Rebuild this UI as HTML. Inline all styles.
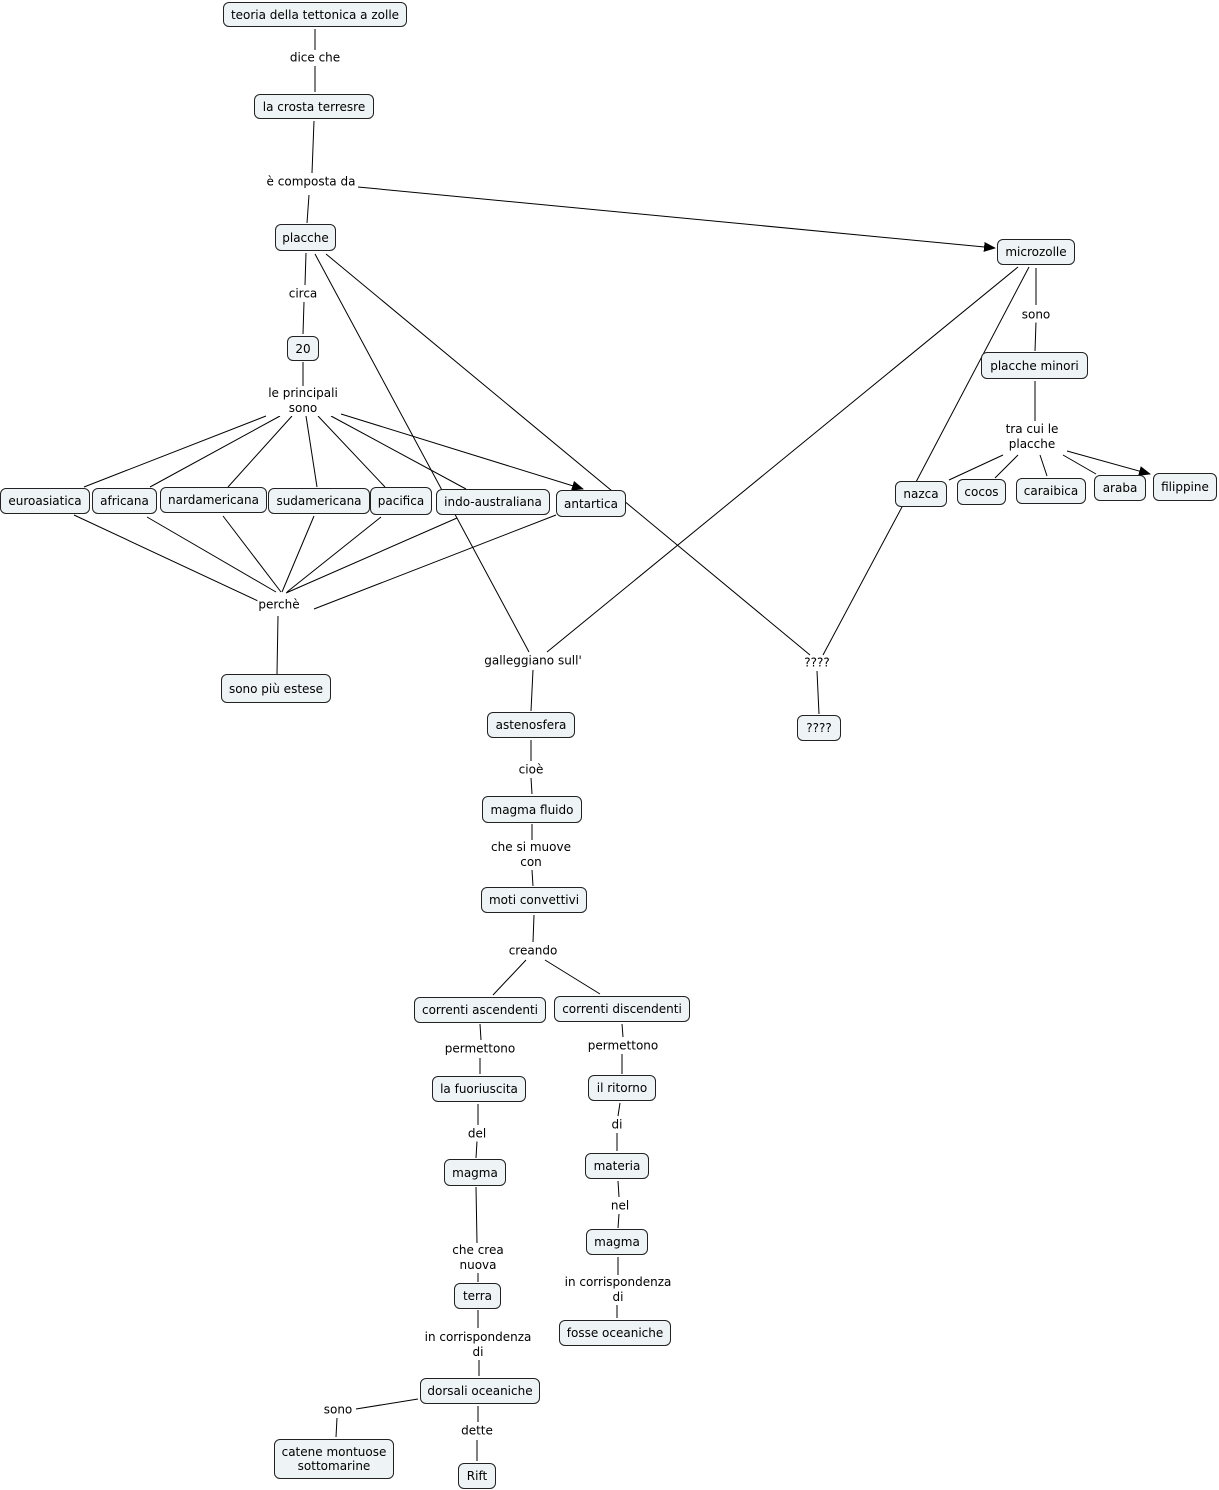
<!DOCTYPE html>
<html><head><meta charset="utf-8"><style>
body{margin:0;width:1219px;height:1490px;background:#fff;position:relative;font-family:"DejaVu Sans","Liberation Sans",sans-serif;font-size:12px;color:#000;overflow:hidden}
.n{position:absolute;box-sizing:border-box;background:#eef3f5;border:1px solid #222;border-radius:6px;display:flex;align-items:center;justify-content:center;text-align:center;line-height:14px;white-space:nowrap}
.l{position:absolute;transform:translate(-50%,-50%);text-align:center;line-height:15px;white-space:nowrap;background:#fff;padding:0 1px}
svg{position:absolute;left:0;top:0}
</style></head><body>
<svg width="1219" height="1490" stroke="#000" stroke-width="1" fill="none">
<defs><marker id="a" markerWidth="12" markerHeight="10" refX="11" refY="5" orient="auto" markerUnits="userSpaceOnUse"><path d="M0,0L12,5L0,10z" fill="#000" stroke="none"/></marker></defs>
<path d="M315,29L315,50M315,66L315,92M314,121L312,173M309,195L307,223M306,253L305,285M304,302L303,334M303,362L303,386"/>
<path d="M358,187L995,248" marker-end="url(#a)"/>
<path d="M266,416L84,487M280,416L150,487M292,416L228,487M306,416L317,487M318,416L385,487M331,416L466,489"/>
<path d="M341,414L583,489" marker-end="url(#a)"/>
<path d="M74,515L258,601M147,517L276,592M223,516L281,592M314,516L282,592M381,517L287,592M457,518L286,593M556,515L314,609M278,616L277,674"/>
<path d="M315,254L529,652M326,254L810,655M1018,267L547,652M1029,267L916,482M902,507L823,655"/>
<path d="M1036,268L1036,305M1036,322L1035,351M1035,381L1035,421M1003,455L949,480M1018,455L995,478M1040,455L1047,476M1063,455L1096,474"/>
<path d="M1067,451L1150,474" marker-end="url(#a)"/>
<path d="M817,671L819,714M533,670L531,711M531,740L531,761M531,778L532,794M532,824L532,840M532,870L533,886M534,915L533,942M526,960L493,995M545,960L600,994"/>
<path d="M480,1024L481,1040M480,1058L480,1074M478,1104L478,1125M477,1141L476,1158M476,1187L477,1243M478,1273L478,1282M478,1310L478,1328M479,1360L479,1376M418,1399L356,1409M337,1418L336,1437M478,1406L478,1422M477,1440L477,1461"/>
<path d="M622,1024L623,1037M622,1054L622,1074M620,1103L618,1116M617,1133L617,1151M618,1181L619,1197M619,1214L618,1228M618,1257L618,1275M617,1305L617,1318"/>
</svg>
<div class="n" style="left:223px;top:2px;width:184px;height:25px">teoria della tettonica a zolle</div>
<div class="n" style="left:254px;top:94px;width:120px;height:25px">la crosta terresre</div>
<div class="n" style="left:275px;top:224px;width:61px;height:27px">placche</div>
<div class="n" style="left:287px;top:336px;width:32px;height:25px">20</div>
<div class="n" style="left:0px;top:488px;width:90px;height:26px">euroasiatica</div>
<div class="n" style="left:92px;top:488px;width:65px;height:26px">africana</div>
<div class="n" style="left:160px;top:487px;width:107px;height:26px">nardamericana</div>
<div class="n" style="left:268px;top:488px;width:102px;height:26px">sudamericana</div>
<div class="n" style="left:370px;top:487px;width:62px;height:28px">pacifica</div>
<div class="n" style="left:436px;top:489px;width:114px;height:26px">indo-australiana</div>
<div class="n" style="left:556px;top:490px;width:70px;height:27px">antartica</div>
<div class="n" style="left:221px;top:674px;width:110px;height:29px">sono più estese</div>
<div class="n" style="left:997px;top:239px;width:78px;height:26px">microzolle</div>
<div class="n" style="left:981px;top:352px;width:107px;height:27px">placche minori</div>
<div class="n" style="left:895px;top:481px;width:52px;height:26px">nazca</div>
<div class="n" style="left:957px;top:479px;width:49px;height:26px">cocos</div>
<div class="n" style="left:1016px;top:478px;width:70px;height:26px">caraibica</div>
<div class="n" style="left:1094px;top:475px;width:52px;height:26px">araba</div>
<div class="n" style="left:1153px;top:473px;width:64px;height:28px">filippine</div>
<div class="n" style="left:797px;top:715px;width:44px;height:26px">????</div>
<div class="n" style="left:487px;top:712px;width:88px;height:26px">astenosfera</div>
<div class="n" style="left:482px;top:796px;width:100px;height:27px">magma fluido</div>
<div class="n" style="left:481px;top:887px;width:106px;height:26px">moti convettivi</div>
<div class="n" style="left:414px;top:997px;width:132px;height:26px">correnti ascendenti</div>
<div class="n" style="left:554px;top:996px;width:136px;height:26px">correnti discendenti</div>
<div class="n" style="left:432px;top:1076px;width:94px;height:26px">la fuoriuscita</div>
<div class="n" style="left:588px;top:1075px;width:68px;height:26px">il ritorno</div>
<div class="n" style="left:444px;top:1159px;width:62px;height:27px">magma</div>
<div class="n" style="left:585px;top:1153px;width:64px;height:26px">materia</div>
<div class="n" style="left:586px;top:1229px;width:62px;height:26px">magma</div>
<div class="n" style="left:454px;top:1283px;width:47px;height:26px">terra</div>
<div class="n" style="left:559px;top:1320px;width:112px;height:26px">fosse oceaniche</div>
<div class="n" style="left:420px;top:1378px;width:120px;height:26px">dorsali oceaniche</div>
<div class="n" style="left:274px;top:1439px;width:120px;height:40px">catene montuose<br>sottomarine</div>
<div class="n" style="left:458px;top:1463px;width:38px;height:26px">Rift</div>
<div class="l" style="left:315px;top:58px">dice che</div>
<div class="l" style="left:311px;top:182px">è composta da</div>
<div class="l" style="left:303px;top:294px">circa</div>
<div class="l" style="left:303px;top:401px">le principali<br>sono</div>
<div class="l" style="left:279px;top:605px">perchè</div>
<div class="l" style="left:533px;top:661px">galleggiano sull'</div>
<div class="l" style="left:817px;top:663px">????</div>
<div class="l" style="left:1036px;top:315px">sono</div>
<div class="l" style="left:1032px;top:437px">tra cui le<br>placche</div>
<div class="l" style="left:531px;top:770px">cioè</div>
<div class="l" style="left:531px;top:855px">che si muove<br>con</div>
<div class="l" style="left:533px;top:951px">creando</div>
<div class="l" style="left:480px;top:1049px">permettono</div>
<div class="l" style="left:623px;top:1046px">permettono</div>
<div class="l" style="left:477px;top:1134px">del</div>
<div class="l" style="left:617px;top:1125px">di</div>
<div class="l" style="left:620px;top:1206px">nel</div>
<div class="l" style="left:478px;top:1258px">che crea<br>nuova</div>
<div class="l" style="left:618px;top:1290px">in corrispondenza<br>di</div>
<div class="l" style="left:478px;top:1345px">in corrispondenza<br>di</div>
<div class="l" style="left:338px;top:1410px">sono</div>
<div class="l" style="left:477px;top:1431px">dette</div>
</body></html>
